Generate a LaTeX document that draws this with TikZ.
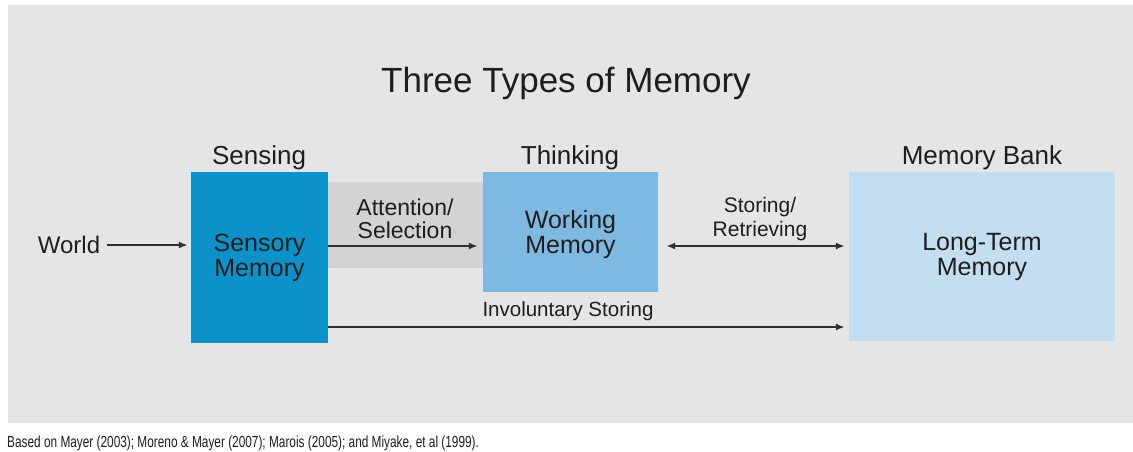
\documentclass[tikz,border=0pt]{standalone}
\usepackage{fontspec}
\setmainfont{Liberation Sans}
\newfontfamily\notefont[FakeStretch=0.74]{Liberation Sans}
\usetikzlibrary{arrows.meta}
\definecolor{panelgray}{HTML}{E5E5E5}
\definecolor{bandgray}{HTML}{D3D3D3}
\definecolor{sensblue}{HTML}{0B93C9}
\definecolor{workblue}{HTML}{7DB9E1}
\definecolor{ltmblue}{HTML}{C3DDF1}
\definecolor{inkgray}{HTML}{1E1E1E}
\definecolor{wiregray}{HTML}{2E2E2E}
\tikzstyle{box}=[inner sep=0pt, align=center, text=inkgray, font=\fontsize{25}{25}\selectfont]
\tikzstyle{head}=[anchor=base, text=inkgray, font=\fontsize{26}{26}\selectfont]
\tikzstyle{tag}=[align=center, text=inkgray]
\tikzstyle{wire}=[line width=2.2pt, draw=wiregray, -{Latex[length=9pt,width=7pt]}]

\begin{document}
\begin{tikzpicture}[x=1pt, y=-1pt]
\useasboundingbox (0,0) rectangle (1133,451);
\fill[white] (0,0) rectangle (1133,451);
\fill[panelgray] (8,5) rectangle (1133,423);
\node[anchor=base, text=inkgray, font=\fontsize{35}{35}\selectfont] (Title) at (566,92) {Three Types of Memory};
\node[head] (Sensing) at (259,164) {Sensing};
\node[head] (Thinking) at (570,164) {Thinking};
\node[head] (Bank) at (982,164) {Memory Bank};
\node[fill=bandgray, minimum width=156pt, minimum height=86pt, inner sep=0pt] (Band) at (405,225) {};
\node[box, fill=sensblue, minimum width=137pt, minimum height=171pt] (Sensory) at (259.5,257.5) {Sensory\\Memory};
\node[box, fill=workblue, minimum width=175pt, minimum height=120pt] (Working) at (570.5,232) {};
\node[box] (WorkText) at (570.5,235) {Working\\Memory};
\node[box, fill=ltmblue, minimum width=266pt, minimum height=169pt] (LongTerm) at (982,256.5) {Long-Term\\Memory};
\node[tag, font=\fontsize{23}{23}\selectfont] (Attention) at (405,219) {Attention/\\Selection};
\node[tag, font=\fontsize{21}{24}\selectfont] (Storing) at (760,219) {Storing/\\Retrieving};
\node[anchor=base, text=inkgray, font=\fontsize{20.5}{20.5}\selectfont] (Involuntary) at (568,316) {Involuntary Storing};
\node[text=inkgray, font=\fontsize{24}{24}\selectfont] (World) at (69,245) {World};
\node[anchor=base west, inner sep=0pt, text=inkgray, font=\notefont\fontsize{16}{16}\selectfont] (Note) at (7,447) {Based on Mayer (2003); Moreno \& Mayer (2007); Marois (2005); and Miyake, et al (1999).};
\coordinate (Mid) at (0,246);
\coordinate (Low) at (0,327);
\draw[wire, shorten <=3pt, shorten >=3pt] (World.east) -- (World -| Sensory.west);
\draw[wire, shorten >=5pt] (Sensory.east |- Mid) -- (Working.west |- Mid);
\draw[wire, {Latex[length=9pt,width=7pt]}-{Latex[length=9pt,width=7pt]}, shorten <=8pt, shorten >=4pt] (Working.east |- Mid) -- (LongTerm.west |- Mid);
\draw[wire, shorten >=4pt] (Sensory.east |- Low) -- (LongTerm.west |- Low);
\end{tikzpicture}
\end{document}
